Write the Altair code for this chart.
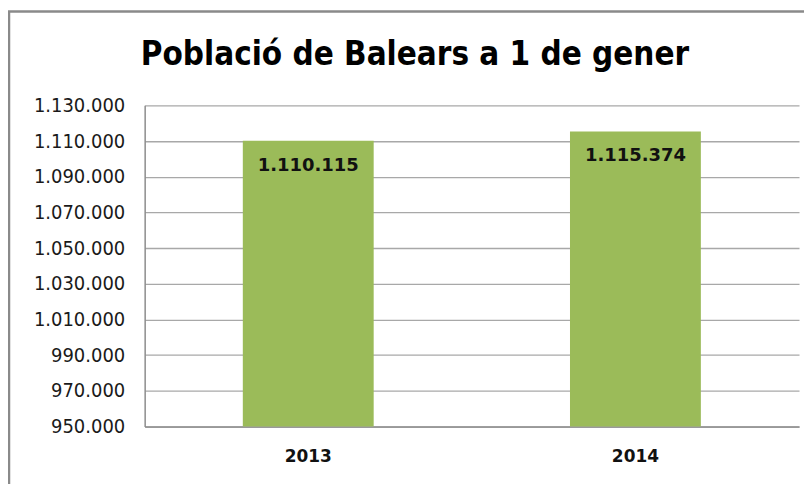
import altair as alt
import pandas as pd

years = ["2013", "2014"]
population = [1110115, 1115374]
y_ticks = [950000, 970000, 990000, 1010000, 1030000, 1050000, 1070000, 1090000, 1110000, 1130000]

df = pd.DataFrame({"year": years, "pop": population})

fmt = "replace(format(%s, ',d'), regexp(',', 'g'), '.')"

x_enc = alt.X("year:N", scale=alt.Scale(paddingInner=0.6, paddingOuter=0.3),
              axis=alt.Axis(title=None, labelAngle=0, labelFont="DejaVu Sans", labelFontSize=17,
                            labelFontWeight="bold", labelColor="#111", labelPadding=22,
                            ticks=False, domainColor="#8c8c8c", domainWidth=1.5, grid=False))
y_enc = alt.Y("pop:Q", scale=alt.Scale(domain=[950000, 1130000], nice=False, zero=False),
              axis=alt.Axis(title=None, values=y_ticks, tickCount=len(y_ticks),
                            labelExpr=fmt % "datum.value",
                            labelOverlap=False, labelFont="DejaVu Sans Condensed", labelFontSize=20,
                            labelColor="#1a1a1a", labelPadding=20, ticks=False,
                            domainColor="#8c8c8c", domainWidth=1.5,
                            grid=True, gridColor="#a8a8a8", gridWidth=1.3))

frame = alt.Chart(alt.Data(values=[{"a": 1}])).mark_rect(
    fill=None, stroke="#8a8a8a", strokeWidth=2.5
).encode(x=alt.value(-136), x2=alt.value(760), y=alt.value(-94), y2=alt.value(500))

bars = alt.Chart(df).mark_bar(color="#9BBB59", clip=True).encode(x=x_enc, y=y_enc)

labels = alt.Chart(df).transform_calculate(
    lab=fmt % "datum.pop"
).mark_text(font="DejaVu Sans", fontSize=18, fontWeight="bold", color="#111",
            baseline="middle", dy=25).encode(x="year:N", y="pop:Q", text="lab:N")

chart = alt.layer(frame, bars, labels).properties(
    width=656, height=322,
    title=alt.TitleParams("Població de Balears a 1 de gener", font="DejaVu Sans Condensed",
                          fontSize=33, fontWeight="bold", color="#000", anchor="middle",
                          dx=-57, offset=0, dy=62),
    autosize=alt.AutoSizeParams(type="none"),
    padding={"left": 137, "top": 97, "right": 5, "bottom": 57},
).configure_view(stroke=None)

chart.save("out.html", embed_options={"renderer": "svg", "actions": False})
